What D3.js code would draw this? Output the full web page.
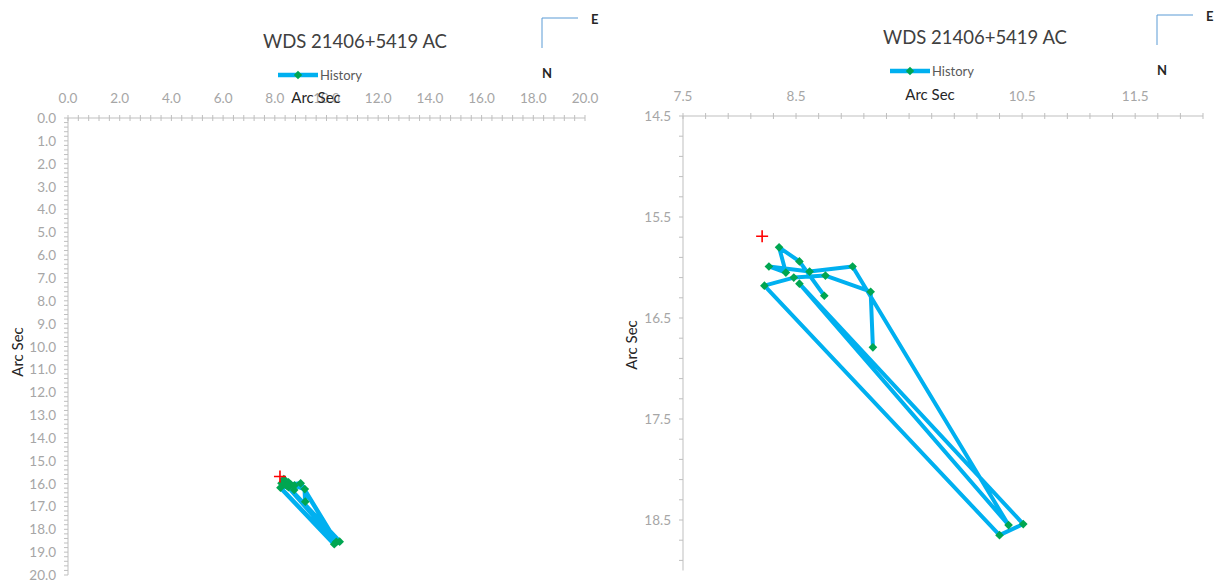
<!DOCTYPE html>
<html>
<head>
<meta charset="utf-8">
<script src="https://cdn.jsdelivr.net/npm/d3@7"></script>
<style>
  body { margin: 0; background: #fff; }
  svg { display: block; font-family: Lato, "Noto Sans", sans-serif; }
</style>
</head>
<body>
<svg id="chart" width="1218" height="584"></svg>
<script>
// measured separation positions, in observation order (x = east offset, y = north offset, arcsec)
var histX = [8.75, 8.53, 8.35, 8.41, 8.26, 8.62, 9.00, 10.38, 8.53, 10.51, 10.30, 8.22, 8.48, 8.76, 9.16, 9.18];
var histY = [16.28, 15.94, 15.80, 16.05, 15.99, 16.04, 15.99, 18.55, 16.16, 18.54, 18.65, 16.18, 16.10, 16.08, 16.24, 16.79];
// red cross position
var markX = [8.20];
var markY = [15.69];

var title = "WDS 21406+5419 AC";
var seriesName = "History";
var axisTitle = "Arc Sec";

var leftXTicks = [0, 2, 4, 6, 8, 10, 12, 14, 16, 18, 20];
var leftYTicks = d3.range(0, 21, 1);
var rightXTicks = [7.5, 8.5, 9.5, 10.5, 11.5];
var rightYTicks = [14.5, 15.5, 16.5, 17.5, 18.5];

var svg = d3.select("#chart");

function drawPanel(o) {
  var g = svg.append("g");
  var x = d3.scaleLinear().domain(o.xDomain).range(o.xRange);
  var y = d3.scaleLinear().domain(o.yDomain).range(o.yRange);
  var x0 = o.xRange[0], y0 = o.yRange[0];

  // minor ticks
  var xMinor = d3.range(o.xDomain[0], o.xDomain[1] + 1e-9, o.xMinor);
  var yMinor = d3.range(o.yDomain[0], o.yDomain[1] + 1e-9, o.yMinor);
  g.selectAll(".xm").data(xMinor).enter().append("line")
    .attr("x1", d => x(d)).attr("x2", d => x(d))
    .attr("y1", y0 - 3).attr("y2", y0 + 3)
    .attr("stroke", "#bfbfbf").attr("stroke-width", 1);
  g.selectAll(".ym").data(yMinor).enter().append("line")
    .attr("x1", x0 - 4).attr("x2", x0)
    .attr("y1", d => y(d)).attr("y2", d => y(d))
    .attr("stroke", "#bfbfbf").attr("stroke-width", 1);

  // axis lines
  g.append("line").attr("x1", x0).attr("x2", o.xRange[1]).attr("y1", y0).attr("y2", y0)
    .attr("stroke", "#bfbfbf");
  g.append("line").attr("x1", x0).attr("x2", x0).attr("y1", y0).attr("y2", o.yRange[1])
    .attr("stroke", "#bfbfbf");

  // tick labels
  g.selectAll(".xl").data(o.xTicks).enter().append("text")
    .attr("x", d => x(d)).attr("y", y0 - 15)
    .attr("text-anchor", "middle").attr("font-size", 13.5).attr("fill", "#a6a6a6")
    .text(d => d.toFixed(1));
  g.selectAll(".yl").data(o.yTicks).enter().append("text")
    .attr("x", x0 - 12).attr("y", d => y(d) + 5)
    .attr("text-anchor", "end").attr("font-size", 13.5).attr("fill", "#a6a6a6")
    .text(d => d.toFixed(1));

  // title
  g.append("text").attr("x", o.titleX).attr("y", o.titleY)
    .attr("text-anchor", "middle").attr("font-size", 18.5).attr("fill", "#404040")
    .text(title);

  // legend
  var lx = o.legendX, ly = o.legendY;
  g.append("line").attr("x1", lx).attr("x2", lx + 40).attr("y1", ly).attr("y2", ly)
    .attr("stroke", "#00b0f0").attr("stroke-width", 4.5);
  g.append("path").attr("d", d3.symbol(d3.symbolDiamond2, 45)())
    .attr("transform", "translate(" + (lx + 20) + "," + ly + ")").attr("fill", "#00a651");
  g.append("text").attr("x", lx + 42).attr("y", ly + 5)
    .attr("font-size", 13).attr("fill", "#595959").text(seriesName);

  // axis titles
  var xt = g.append("text").attr("x", o.xTitleX).attr("y", o.xTitleY)
    .attr("text-anchor", "middle").attr("font-size", 15).attr("fill", "#262626")
    .text(axisTitle);
  if (o.titleFill) {
    var bb = xt.node().getBBox();
    g.insert("rect", function () { return xt.node(); })
      .attr("x", bb.x - 8).attr("y", bb.y - 2).attr("width", bb.width + 16).attr("height", bb.height + 4)
      .attr("fill", "#fff");
  }
  g.append("text")
    .attr("transform", "translate(" + o.yTitleX + "," + o.yTitleY + ") rotate(-90)")
    .attr("text-anchor", "middle").attr("font-size", 15).attr("fill", "#262626")
    .text(axisTitle);

  // compass
  var cx = o.compassX, cy = o.compassY;
  g.append("path").attr("d", "M" + (cx + 36) + "," + cy + "H" + cx + "V" + (cy + 30))
    .attr("fill", "none").attr("stroke", "#5b9bd5").attr("stroke-width", 1);
  g.append("text").attr("x", cx + 49).attr("y", cy + 6).attr("font-size", 13)
    .attr("font-weight", "bold").attr("fill", "#262626").text("E");
  g.append("text").attr("x", cx + 5).attr("y", cy + 60).attr("font-size", 13)
    .attr("text-anchor", "middle").attr("font-weight", "bold").attr("fill", "#262626").text("N");

  // history series
  var pts = histX.map((d, i) => [d, histY[i]]);
  var line = d3.line().x(d => x(d[0])).y(d => y(d[1]));
  g.append("path").attr("d", line(pts))
    .attr("fill", "none").attr("stroke", "#00b0f0").attr("stroke-width", o.lineW)
    .attr("stroke-linejoin", "round");
  g.selectAll(".pt").data(pts).enter().append("path")
    .attr("d", d3.symbol(d3.symbolDiamond2, 48)())
    .attr("transform", d => "translate(" + x(d[0]) + "," + y(d[1]) + ")")
    .attr("fill", "#00a651");

  // red cross
  markX.forEach(function (mx, i) {
    g.append("path").attr("d", "M-6,0H6M0,-6V6")
      .attr("transform", "translate(" + x(mx) + "," + y(markY[i]) + ")")
      .attr("fill", "none").attr("stroke", "#ff0000").attr("stroke-width", 1.6);
  });
}

drawPanel({
  xDomain: [0, 20], xRange: [68, 585], xMinor: 0.4, xTicks: leftXTicks,
  yDomain: [0, 20], yRange: [118, 575], yMinor: 0.2, yTicks: leftYTicks,
  titleX: 355, titleY: 48, legendX: 278, legendY: 75,
  xTitleX: 316, xTitleY: 103, yTitleX: 23, yTitleY: 352,
  compassX: 542, compassY: 18, titleFill: false, lineW: 4.5
});

drawPanel({
  xDomain: [7.5, 12.1], xRange: [683, 1203], xMinor: 0.2, xTicks: rightXTicks,
  yDomain: [14.5, 19.0], yRange: [116, 570.5], yMinor: 0.2, yTicks: rightYTicks,
  titleX: 975, titleY: 44, legendX: 890, legendY: 71,
  xTitleX: 930, xTitleY: 100, yTitleX: 637, yTitleY: 345,
  compassX: 1157, compassY: 15, titleFill: true, lineW: 4
});
</script>
</body>
</html>
